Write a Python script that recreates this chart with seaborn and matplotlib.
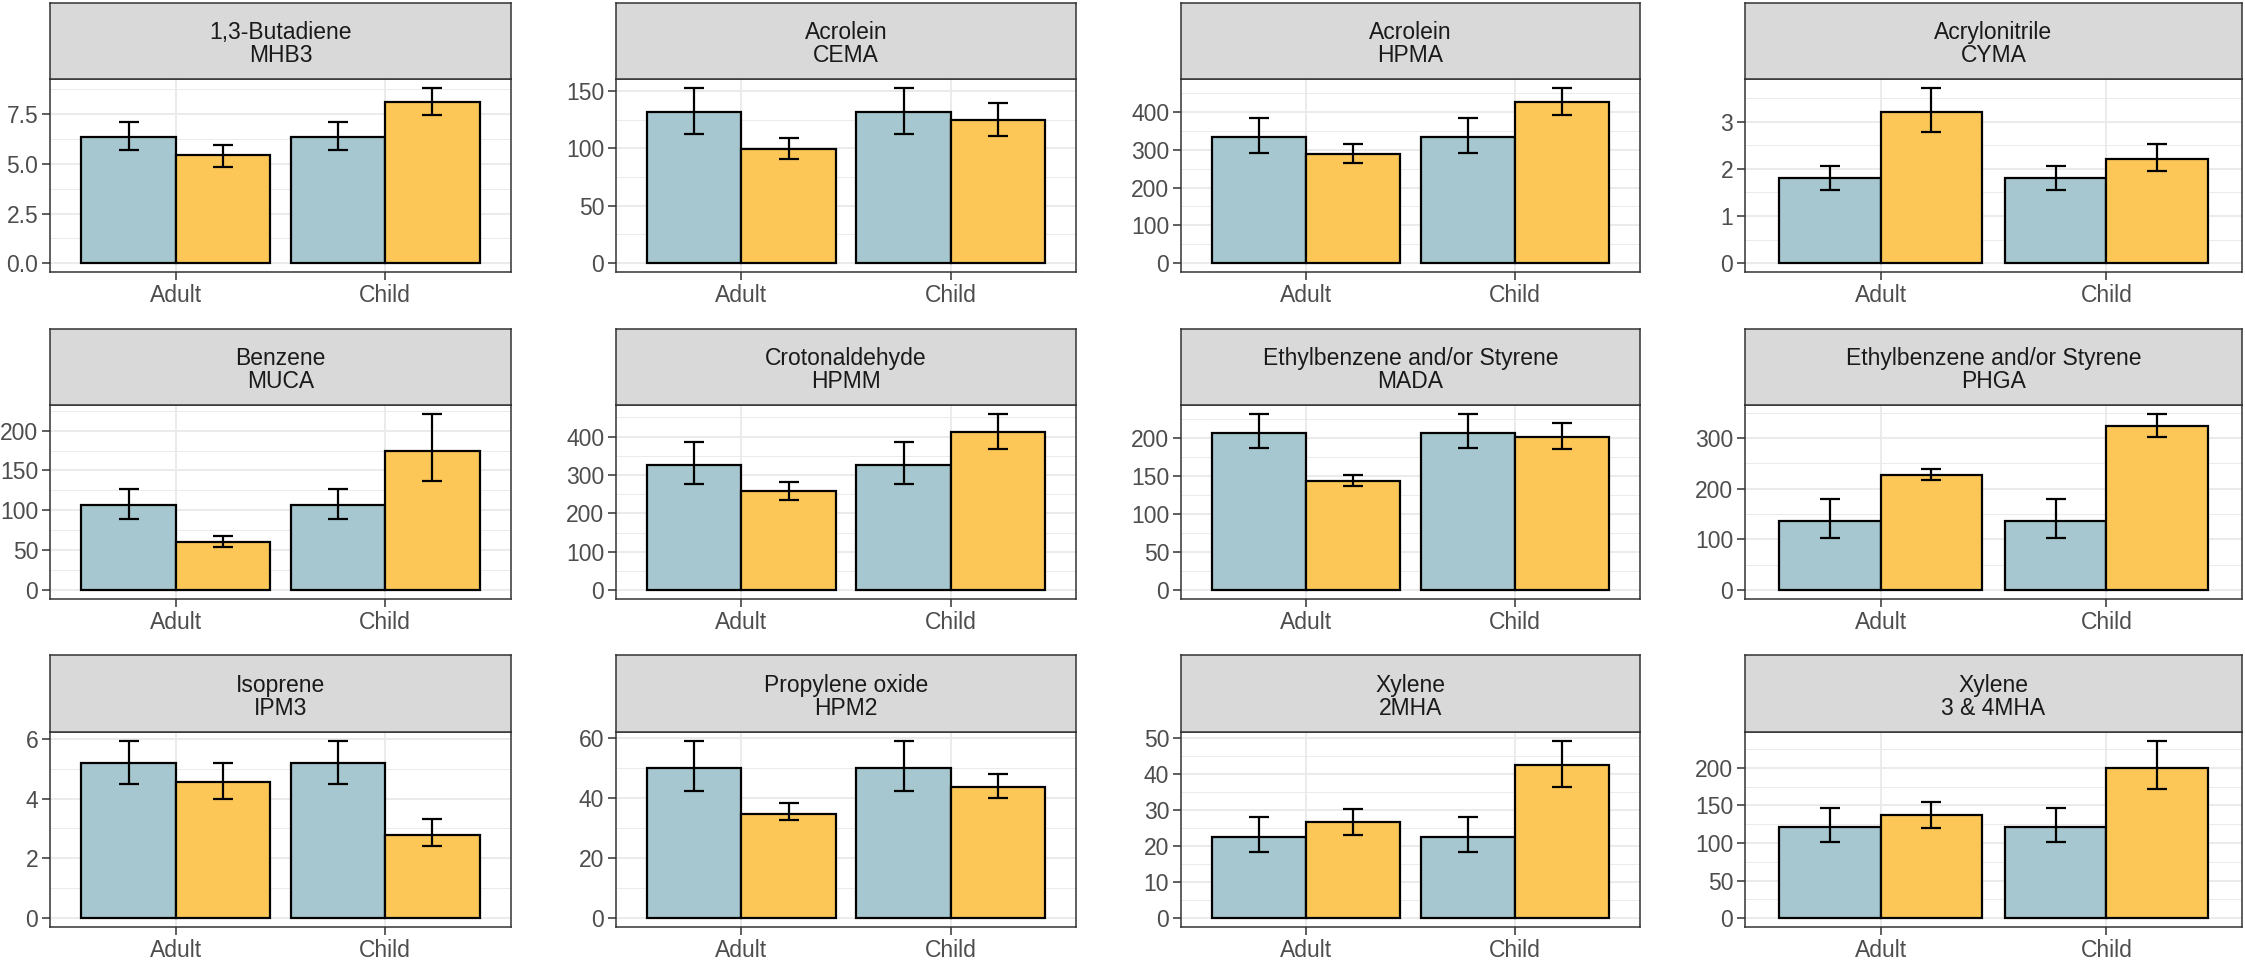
import numpy as np
import pandas as pd
import matplotlib
matplotlib.use("Agg")
import matplotlib.pyplot as plt
from matplotlib.ticker import MultipleLocator, FormatStrFormatter
import seaborn as sns

# panel labels
chemicals = ["1,3-Butadiene", "Acrolein", "Acrolein", "Acrylonitrile",
             "Benzene", "Crotonaldehyde", "Ethylbenzene and/or Styrene",
             "Ethylbenzene and/or Styrene", "Isoprene", "Propylene oxide",
             "Xylene", "Xylene"]
metabolites = ["MHB3", "CEMA", "HPMA", "CYMA", "MUCA", "HPMM", "MADA",
               "PHGA", "IPM3", "HPM2", "2MHA", "3 & 4MHA"]
groups = ["Adult", "Child"]

# blue bars (same reference value shown for both groups)
ref_mean = [6.36, 131.4, 333.9, 1.80, 107.1, 325.1, 206.6, 136.5, 5.18, 50.0, 22.5, 121.3]
ref_lo = [5.69, 112.0, 290.7, 1.56, 89.1, 277.1, 186.8, 102.9, 4.50, 42.4, 18.3, 100.7]
ref_hi = [7.13, 152.6, 382.4, 2.07, 126.9, 385.2, 231.6, 179.3, 5.93, 59.0, 28.2, 146.3]
# yellow bars
adult_mean = [5.44, 99.5, 289.0, 3.21, 60.5, 258.8, 143.7, 226.8, 4.57, 34.7, 26.6, 136.9]
adult_lo = [4.83, 90.8, 265.2, 2.79, 54.6, 235.3, 136.3, 217.6, 3.97, 32.5, 23.0, 120.4]
adult_hi = [5.97, 108.5, 313.7, 3.72, 68.1, 281.5, 151.2, 238.7, 5.18, 38.2, 30.2, 154.4]
child_mean = [8.10, 124.2, 426.4, 2.22, 174.8, 411.3, 201.3, 324.4, 2.77, 43.8, 42.4, 199.6]
child_lo = [7.47, 110.8, 392.1, 1.95, 137.4, 366.9, 185.1, 302.6, 2.40, 40.0, 36.5, 171.8]
child_hi = [8.83, 139.3, 463.4, 2.52, 221.0, 459.3, 218.9, 347.5, 3.31, 48.1, 49.2, 235.8]

y_step = [2.5, 50, 100, 1, 50, 100, 50, 100, 2, 20, 10, 50]

blue = "#a6c6d0"
yellow = "#fdc757"

sns.set_theme(style="white")
plt.rcParams["font.family"] = ["Liberation Sans", "DejaVu Sans"]

W, H = 2245, 966
fig = plt.figure(figsize=(W / 100, H / 100), dpi=100)
fig.patch.set_facecolor("white")

col_lr = [(50, 511), (616, 1076), (1181, 1640), (1745, 2242)]
row_tb = [(3, 79, 272), (329, 405, 599), (655, 732, 927)]


def frac(l, r, t, b):
    return [l / W, 1 - b / H, (r - l) / W, (b - t) / H]


for i in range(12):
    r, c = divmod(i, 4)
    l, rr = col_lr[c]
    st, sb, pb = row_tb[r]

    df = pd.DataFrame({
        "group": groups * 2,
        "series": ["ref", "ref", "obs", "obs"],
        "value": [ref_mean[i], ref_mean[i], adult_mean[i], child_mean[i]],
        "lo": [ref_lo[i], ref_lo[i], adult_lo[i], child_lo[i]],
        "hi": [ref_hi[i], ref_hi[i], adult_hi[i], child_hi[i]],
    })

    ax = fig.add_axes(frac(l, rr, sb, pb))
    sns.barplot(data=df, x="group", y="value", hue="series",
                order=groups, hue_order=["ref", "obs"],
                palette=[blue, yellow], width=0.9, gap=0, saturation=1,
                edgecolor="black", linewidth=1.6, errorbar=None,
                legend=False, ax=ax, zorder=3)

    # error bars at the bar centres
    for p, (_, row) in zip(ax.patches, df.iterrows()):
        x = p.get_x() + p.get_width() / 2
        ax.errorbar(x, row["value"],
                    yerr=[[row["value"] - row["lo"]], [row["hi"] - row["value"]]],
                    fmt="none", ecolor="black", elinewidth=1.6,
                    capsize=7.5, capthick=1.6, zorder=4)

    top = df["hi"].max()
    ax.set_ylim(-0.05 * top, 1.05 * top)
    ax.set_xlim(-0.6, 1.6)
    ax.yaxis.set_major_locator(MultipleLocator(y_step[i]))
    ax.yaxis.set_minor_locator(MultipleLocator(y_step[i] / 2))
    fmt = "%.1f" if y_step[i] < 1 or y_step[i] % 1 else "%d"
    ax.yaxis.set_major_formatter(FormatStrFormatter(fmt))

    ax.grid(True, which="major", color="#ebebeb", lw=1.4, zorder=0)
    ax.grid(True, which="minor", axis="y", color="#ebebeb", lw=0.7, zorder=0)
    ax.set_axisbelow(True)
    ax.set_xlabel("")
    ax.set_ylabel("")
    ax.tick_params(axis="both", which="major", length=5.5, width=1.1,
                   color="#333333", labelsize=16.5, labelcolor="#4d4d4d",
                   left=True, bottom=True, pad=3)
    ax.tick_params(axis="y", which="minor", length=0)
    for s in ax.spines.values():
        s.set_color("#333333")
        s.set_linewidth(1.1)

    sax = fig.add_axes(frac(l, rr, st, sb))
    sax.set_facecolor("#d9d9d9")
    sax.set_xticks([])
    sax.set_yticks([])
    for s in sax.spines.values():
        s.set_color("#333333")
        s.set_linewidth(1.1)
    sax.text(0.5, 0.46, chemicals[i] + "\n" + metabolites[i],
             ha="center", va="center", fontsize=16.5, color="#1a1a1a",
             linespacing=1.0, transform=sax.transAxes)

fig.savefig("out.png", dpi=100, facecolor="white")
